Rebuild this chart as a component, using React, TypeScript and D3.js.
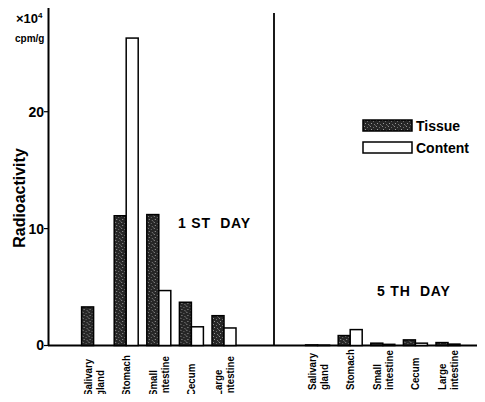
import React, { useRef, useEffect } from 'react';
import * as d3 from 'd3';

const organs = ['Salivary gland', 'Stomach', 'Small intestine', 'Cecum', 'Large intestine'];
const series = ['Tissue', 'Content'];
const day1Tissue = [3.3, 11.1, 11.2, 3.7, 2.55];
const day1Content = [0, 26.3, 4.7, 1.6, 1.5];
const day5Tissue = [0.05, 0.85, 0.2, 0.48, 0.25];
const day5Content = [0.03, 1.36, 0.1, 0.2, 0.12];
const yTicks = [0, 10, 20];
const panelTitles = ['1 ST  DAY', '5 TH  DAY'];

const labelLines = (name: string) => {
  const parts = name.split(' ');
  return parts.length > 1 ? parts : [name];
};

const Chart = () => {
  const svgRef = useRef<SVGSVGElement>(null);

  useEffect(() => {
    const svg = d3.select(svgRef.current);
    svg.selectAll('*').remove();

    const width = 485;
    const height = 402;
    const font = '"Liberation Sans", Arial, sans-serif';

    const y = d3.scaleLinear().domain([0, 29.3]).range([345.5, 3]);

    // stippled fill for tissue bars
    const defs = svg.append('defs');
    const pat = defs.append('pattern')
      .attr('id', 'stipple')
      .attr('width', 6)
      .attr('height', 6)
      .attr('patternUnits', 'userSpaceOnUse');
    pat.append('rect').attr('width', 6).attr('height', 6).attr('fill', '#262626');
    [[1, 0, '#8c8c8c'], [4, 1, '#6e6e6e'], [2, 3, '#9a9a9a'], [5, 4, '#7a7a7a'], [0, 5, '#5c5c5c']]
      .forEach(([px, py, c]) => {
        pat.append('rect').attr('x', px).attr('y', py).attr('width', 1).attr('height', 1).attr('fill', c as string);
      });

    const g = svg.append('g');

    // y axis
    g.append('line')
      .attr('x1', 48.5).attr('x2', 48.5)
      .attr('y1', y.range()[1]).attr('y2', y(0))
      .attr('stroke', '#000').attr('stroke-width', 2);

    g.selectAll('.ytick')
      .data(yTicks)
      .enter().append('line')
      .attr('x1', 44).attr('x2', 48)
      .attr('y1', d => y(d)).attr('y2', d => y(d))
      .attr('stroke', '#000').attr('stroke-width', 1.2);

    g.selectAll('.ylab')
      .data(yTicks)
      .enter().append('text')
      .attr('x', 44)
      .attr('y', d => y(d))
      .attr('dy', '0.35em')
      .attr('text-anchor', 'end')
      .style('font', `bold 14px ${font}`)
      .text(d => d);

    g.append('text')
      .attr('transform', `translate(25,198) rotate(-90)`)
      .attr('text-anchor', 'middle')
      .style('font', `bold 16px ${font}`)
      .text('Radioactivity');

    const unit = g.append('text')
      .attr('x', 16).attr('y', 23)
      .style('font', `bold 13px ${font}`);
    unit.append('tspan').text('×10');
    unit.append('tspan').attr('dy', -5).style('font-size', '8px').text('4');
    g.append('text')
      .attr('x', 15).attr('y', 42)
      .style('font', `bold 10px ${font}`)
      .text('cpm/g');

    // divider between panels
    g.append('line')
      .attr('x1', 274).attr('x2', 274)
      .attr('y1', 13).attr('y2', y(0))
      .attr('stroke', '#000').attr('stroke-width', 1.8);

    // baseline
    g.append('line')
      .attr('x1', 48).attr('x2', width)
      .attr('y1', y(0)).attr('y2', y(0))
      .attr('stroke', '#000').attr('stroke-width', 1.8);

    const panels = [
      { tissue: day1Tissue, content: day1Content, range: [81.6, 236], title: panelTitles[0], tx: 178, ty: 228, labelY: 396 },
      { tissue: day5Tissue, content: day5Content, range: [305.6, 460], title: panelTitles[1], tx: 377, ty: 296, labelY: 390 },
    ];

    panels.forEach(p => {
      const x0 = d3.scaleBand<string>()
        .domain(organs)
        .range(p.range as [number, number])
        .paddingInner(0.264)
        .paddingOuter(0);
      const x1 = d3.scaleBand<string>()
        .domain(series)
        .range([0, x0.bandwidth()]);

      const rows = organs.map((o, i) => ({ organ: o, values: [p.tissue[i], p.content[i]] }));

      const grp = g.selectAll(null)
        .data(rows)
        .enter().append('g')
        .attr('transform', d => `translate(${x0(d.organ)},0)`);

      grp.selectAll('rect')
        .data(d => d.values.map((v, k) => ({ key: series[k], v })))
        .enter().append('rect')
        .filter(d => d.v > 0)
        .attr('x', d => x1(d.key)!)
        .attr('y', d => y(d.v))
        .attr('width', x1.bandwidth())
        .attr('height', d => y(0) - y(d.v))
        .attr('fill', d => d.key === 'Tissue' ? 'url(#stipple)' : '#fff')
        .attr('stroke', '#000')
        .attr('stroke-width', 1.5);

      // category labels, rotated, squeezed a bit and aligned at the bottom
      rows.forEach(r => {
        const lines = labelLines(r.organ);
        const cx = x0(r.organ)! + x0.bandwidth() / 2;
        const t = g.append('text')
          .attr('transform', `translate(${cx},${p.labelY}) rotate(-90) scale(0.88,1)`)
          .attr('text-anchor', 'start')
          .style('font', `bold 11px ${font}`);
        lines.forEach((ln, k) => {
          t.append('tspan')
            .attr('x', 0)
            .attr('y', (k - (lines.length - 1) / 2) * 12)
            .attr('dy', '0.36em')
            .text(ln);
        });
      });

      g.append('text')
        .attr('x', p.tx).attr('y', p.ty)
        .style('font', `bold 14px ${font}`)
        .style('letter-spacing', '0.8px')
        .style('white-space', 'pre')
        .text(p.title);
    });

    // legend
    const legend = g.append('g').attr('transform', 'translate(363,120)');
    series.forEach((s, i) => {
      legend.append('rect')
        .attr('x', 0).attr('y', i * 22)
        .attr('width', 49).attr('height', 11)
        .attr('fill', s === 'Tissue' ? 'url(#stipple)' : '#fff')
        .attr('stroke', '#000').attr('stroke-width', 1.5);
      legend.append('text')
        .attr('x', 53).attr('y', i * 22 + 11)
        .style('font', `bold 14px ${font}`)
        .text(s);
    });

    svg.attr('width', width).attr('height', height);
  }, []);

  return <svg ref={svgRef} width={485} height={402} style={{ display: 'block', background: '#fff' }} />;
};

export default function App() {
  return (
    <div style={{ margin: -8 }}>
      <Chart />
    </div>
  );
}
